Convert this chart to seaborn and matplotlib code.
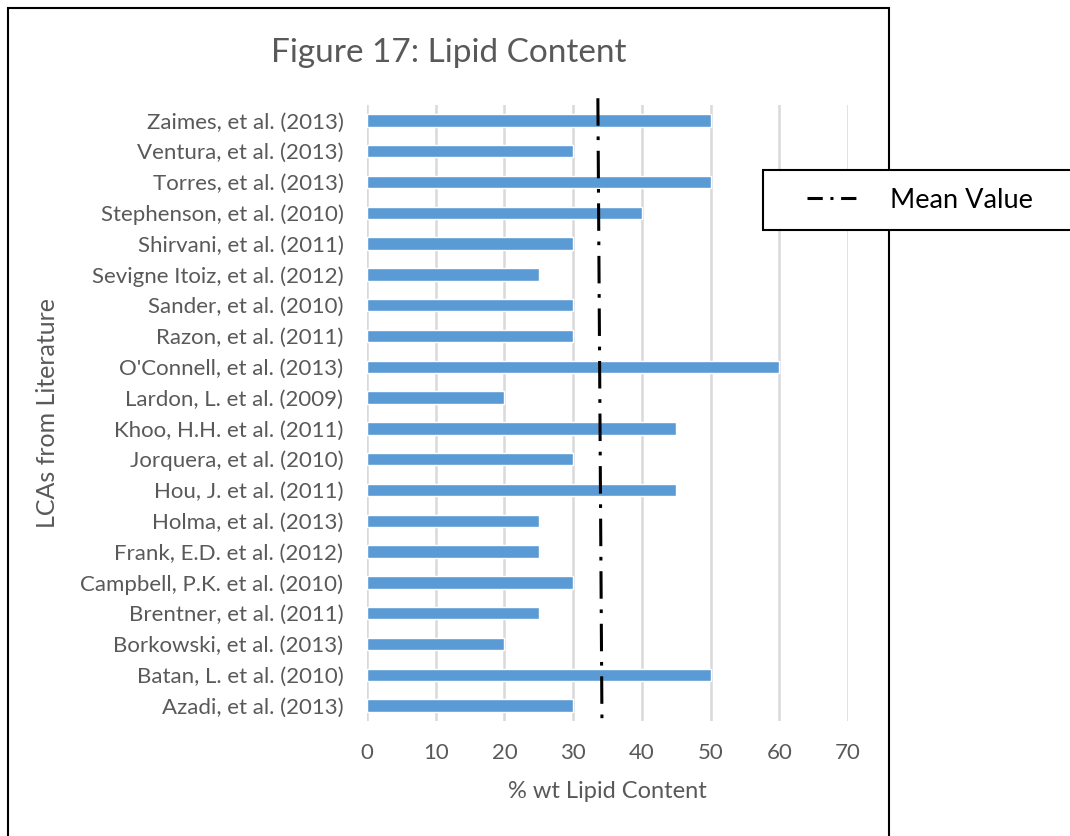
import matplotlib
matplotlib.use('Agg')
import matplotlib.pyplot as plt
import seaborn as sns
import pandas as pd
from matplotlib.patches import Rectangle
from matplotlib.lines import Line2D

# Data (top to bottom)
studies = [
    "Zaimes, et al. (2013)", "Ventura, et al. (2013)", "Torres, et al. (2013)",
    "Stephenson, et al. (2010)", "Shirvani, et al. (2011)", "Sevigne Itoiz, et al. (2012)",
    "Sander, et al. (2010)", "Razon, et al. (2011)", "O'Connell, et al. (2013)",
    "Lardon, L. et al. (2009)", "Khoo, H.H. et al. (2011)", "Jorquera, et al. (2010)",
    "Hou, J. et al. (2011)", "Holma, et al. (2013)", "Frank, E.D. et al. (2012)",
    "Campbell, P.K. et al. (2010)", "Brentner, et al. (2011)", "Borkowski, et al. (2013)",
    "Batan, L. et al. (2010)", "Azadi, et al. (2013)",
]
lipid = [50, 30, 50, 40, 30, 25, 30, 30, 60, 20, 45, 30, 45, 25, 25, 30, 25, 20, 50, 30]

# mean value line, as drawn (slightly slanted in the original)
mean_x = [33.6, 34.2]
mean_y = [-0.72, 19.72]

x_ticks = [0, 10, 20, 30, 40, 50, 60, 70]

BLUE = '#5B9BD5'
GRAY = '#595959'
GRID = '#D9D9D9'

sns.set_style('white')
plt.rcParams['font.family'] = ['Lato', 'DejaVu Sans']

df = pd.DataFrame({'study': studies, 'lipid': lipid})

fig = plt.figure(figsize=(10.7, 8.36), dpi=100)
ax = fig.add_axes([367 / 1070, 1 - 721 / 836, 481 / 1070, 616 / 836])

sns.barplot(data=df, x='lipid', y='study', color=BLUE, width=0.4,
            saturation=1, ax=ax, zorder=3)

ax.set_xlim(0, 70)
ax.set_ylim(19.5, -0.5)
ax.set_xticks(x_ticks)
ax.xaxis.grid(True, color=GRID, linewidth=1.8, zorder=0)
ax.yaxis.grid(False)
for s in ax.spines.values():
    s.set_visible(False)
ax.tick_params(axis='both', length=0, labelsize=16, labelcolor=GRAY)
ax.tick_params(axis='y', pad=17)
ax.tick_params(axis='x', pad=16)

# mean line
ax.plot(mean_x, mean_y, color='black', linewidth=2.2, clip_on=False, zorder=4,
        dashes=(9, 3.5, 1.2, 3.5))

ax.set_xlabel('% wt Lipid Content', fontsize=17, color=GRAY, labelpad=13)
ax.set_ylabel('LCAs from Literature', fontsize=18, color=GRAY)
ax.yaxis.set_label_coords(-0.64, 0.5)

fig.text(449 / 1070, 1 - 53 / 836, 'Figure 17: Lipid Content', fontsize=24,
         color=GRAY, ha='center', va='center')

# outer chart border
fig.patches.append(Rectangle((8 / 1070, -0.05), 881 / 1070, 1.05 - 8 / 836,
                             transform=fig.transFigure, fill=False,
                             edgecolor='black', linewidth=1.5, zorder=10))

# legend box
fig.patches.append(Rectangle((763 / 1070, 1 - 230 / 836), 320 / 1070, 60 / 836,
                             transform=fig.transFigure, facecolor='white',
                             edgecolor='black', linewidth=1.5, zorder=11))
handle = Line2D([], [], color='black', linewidth=2.2, dashes=(5, 2.5, 1, 2.5))
leg = fig.legend([handle], ['Mean Value'], loc='center left',
                 bbox_to_anchor=(783 / 1070, 1 - 200 / 836), frameon=False,
                 fontsize=19.5, handlelength=1.9, handletextpad=1.15)
leg.set_zorder(12)
for t in leg.get_texts():
    t.set_color('black')

fig.savefig('out.png', dpi=100)
